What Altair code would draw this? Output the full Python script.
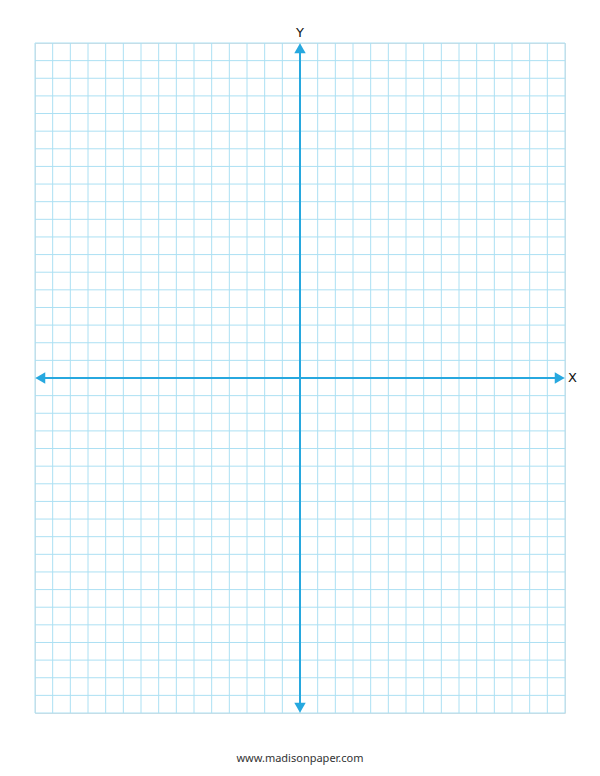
import altair as alt
import pandas as pd

# grid lines (integer units)
x_ticks = list(range(-15, 16))
y_ticks = list(range(-19, 20))

# axis arrows
arrow_x1 = [-14.7, 0]
arrow_x2 = [14.7, 0]
arrow_y1 = [0, -18.7]
arrow_y2 = [0, 18.7]

head_x = [-14.7, 14.7, 0, 0]
head_y = [0, 0, 18.7, -18.7]
head_shape = ["triangle-left", "triangle-right", "triangle-up", "triangle-down"]

label_text = ["X", "Y"]
label_x = [15, 0]
label_y = [0, 19]

footer = "www.madisonpaper.com"

GRID = "#ace0f3"
AXIS = "#27a8df"

xs = alt.Scale(domain=[-15, 15], nice=False, zero=False)
ys = alt.Scale(domain=[-19, 19], nice=False, zero=False)

vgrid_df = pd.DataFrame({"x": x_ticks})
hgrid_df = pd.DataFrame({"y": y_ticks})
lines_df = pd.DataFrame({"x": arrow_x1, "x2": arrow_x2, "y": arrow_y1, "y2": arrow_y2})
heads_df = pd.DataFrame({"x": head_x, "y": head_y, "shape": head_shape})
lab_df = pd.DataFrame({"t": label_text, "x": label_x, "y": label_y})

vgrid = alt.Chart(vgrid_df).mark_rule(color=GRID, strokeWidth=1).encode(
    x=alt.X("x:Q", scale=xs, axis=None),
)
hgrid = alt.Chart(hgrid_df).mark_rule(color=GRID, strokeWidth=1).encode(
    y=alt.Y("y:Q", scale=ys, axis=None),
)

rules = alt.Chart(lines_df).mark_rule(color=AXIS, strokeWidth=2).encode(
    x=alt.X("x:Q", scale=xs, axis=None),
    x2="x2:Q",
    y=alt.Y("y:Q", scale=ys, axis=None),
    y2="y2:Q",
)

heads = alt.Chart(heads_df).mark_point(filled=True, color=AXIS, opacity=1, size=130).encode(
    x=alt.X("x:Q", scale=xs, axis=None),
    y=alt.Y("y:Q", scale=ys, axis=None),
    shape=alt.Shape("shape:N", scale=None, legend=None),
)

labx = alt.Chart(lab_df[lab_df.t == "X"]).mark_text(
    font="DejaVu Sans", fontSize=13, color="#111", align="left", dx=3, baseline="middle"
).encode(x=alt.X("x:Q", scale=xs, axis=None), y=alt.Y("y:Q", scale=ys, axis=None), text="t:N")

laby = alt.Chart(lab_df[lab_df.t == "Y"]).mark_text(
    font="DejaVu Sans", fontSize=13, color="#111", align="center", dy=-3, baseline="bottom"
).encode(x=alt.X("x:Q", scale=xs, axis=None), y=alt.Y("y:Q", scale=ys, axis=None), text="t:N")

chart = alt.layer(vgrid, hgrid, rules, heads, labx, laby).properties(
    width=530,
    height=670,
    autosize=alt.AutoSizeParams(type="none"),
    padding={"left": 27, "top": 35, "right": 27, "bottom": 55},
    title=alt.TitleParams(footer, orient="bottom", offset=39, font="Noto Sans",
                          fontSize=11, fontWeight="normal", color="#333"),
).configure_view(stroke=None).configure(background="white")

chart.save("out.html", embed_options={"renderer": "svg", "actions": False})
